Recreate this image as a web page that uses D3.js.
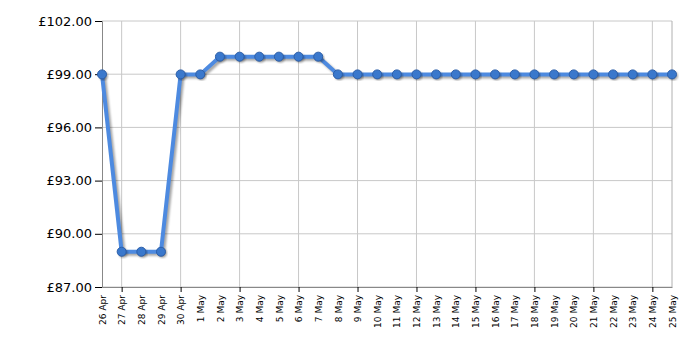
<!DOCTYPE html>
<html>
<head>
<meta charset="utf-8">
<script src="https://cdn.jsdelivr.net/npm/d3@7"></script>
<style>
  body { margin: 0; background: #fff; }
  svg text { font-family: "DejaVu Sans", Verdana, sans-serif; }
</style>
</head>
<body>
<svg id="chart" width="700" height="350"></svg>
<script>
// dates shown on the x axis
var dates = ["26 Apr","27 Apr","28 Apr","29 Apr","30 Apr","1 May","2 May","3 May","4 May","5 May",
  "6 May","7 May","8 May","9 May","10 May","11 May","12 May","13 May","14 May","15 May",
  "16 May","17 May","18 May","19 May","20 May","21 May","22 May","23 May","24 May","25 May"];
// price for each day
var prices = [98.99,88.99,88.99,88.99,98.99,98.99,99.99,99.99,99.99,99.99,
  99.99,99.99,98.99,98.99,98.99,98.99,98.99,98.99,98.99,98.99,
  98.99,98.99,98.99,98.99,98.99,98.99,98.99,98.99,98.99,98.99];
var yTicks = [87,90,93,96,99,102];

var margin = {left: 102, top: 21, right: 28, bottom: 63};
var W = 700, H = 350;
var svg = d3.select('#chart');

// soft shadow under the line
let defs = svg.append('defs');
let f = defs.append('filter').attr('id', 'blur').attr('x', '-5%').attr('y', '-5%')
    .attr('width', '110%').attr('height', '110%');
f.append('feGaussianBlur').attr('stdDeviation', 1);

var x = d3.scalePoint().domain(dates).range([margin.left, W - margin.right]);
var y = d3.scaleLinear().domain([87, 102]).range([H - margin.bottom, margin.top]);

// grid
let grid = svg.append('g');
grid.selectAll('.hg').data(yTicks).enter().append('line')
    .attr('x1', margin.left).attr('x2', W - margin.right)
    .attr('y1', d => y(d)).attr('y2', d => y(d))
    .attr('stroke', '#c8c8c8').attr('stroke-width', 1);
let gridDates = dates.filter((d, i) => i % 3 == 1);
grid.selectAll('.vg').data(gridDates).enter().append('line')
    .attr('x1', d => x(d)).attr('x2', d => x(d))
    .attr('y1', margin.top).attr('y2', H - margin.bottom)
    .attr('stroke', '#c8c8c8').attr('stroke-width', 1);
grid.append('line')
    .attr('x1', W - margin.right).attr('x2', W - margin.right)
    .attr('y1', margin.top).attr('y2', H - margin.bottom)
    .attr('stroke', '#b0b0b0');

// y axis
let yAxis = svg.append('g')
    .attr('transform', 'translate(' + margin.left + ',0)')
    .call(d3.axisLeft(y).tickValues(yTicks).tickSize(7).tickPadding(3)
        .tickFormat(d => '£' + d3.format('.2f')(d)));
yAxis.select('.domain').attr('stroke', '#888');
yAxis.selectAll('.tick line').attr('stroke', '#000');
yAxis.selectAll('text').attr('font-size', 13).attr('fill', '#000')
    .style('font-family', '"DejaVu Sans", Verdana, sans-serif');

// x axis
let xAxis = svg.append('g')
    .attr('transform', 'translate(0,' + (H - margin.bottom) + ')')
    .call(d3.axisBottom(x).tickSize(0).tickPadding(0));
xAxis.select('.domain').attr('stroke', '#888');
xAxis.selectAll('text')
    .attr('font-size', 9).attr('fill', '#000')
    .attr('text-anchor', 'end')
    .attr('dy', '0.35em')
    .attr('transform', 'translate(0,8) rotate(-90)')
    .attr('x', 0).attr('y', 0)
    .style('font-family', '"DejaVu Sans", Verdana, sans-serif');
xAxis.selectAll('.tick').filter(d => gridDates.indexOf(d) >= 0).append('line')
    .attr('y1', 0).attr('y2', 5).attr('stroke', '#000');

// shadow + line
let pts = dates.map((d, i) => [x(d), y(prices[i])]);
let line = d3.line();
svg.append('path').attr('d', line(pts.map(p => [p[0] + 2, p[1] + 2])))
    .attr('fill', 'none').attr('stroke', 'rgba(0,0,0,0.35)').attr('stroke-width', 4)
    .attr('stroke-linejoin', 'round').attr('filter', 'url(#blur)');
svg.append('path').attr('d', line(pts))
    .attr('fill', 'none').attr('stroke', '#4d8ae0').attr('stroke-width', 4)
    .attr('stroke-linejoin', 'round');

// points
svg.selectAll('.shadowdot').data(pts).enter().append('circle')
    .attr('cx', d => d[0] + 1.5).attr('cy', d => d[1] + 1.5).attr('r', 4.5)
    .attr('fill', 'rgba(0,0,0,0.35)').attr('filter', 'url(#blur)');
svg.selectAll('.dot').data(pts).enter().append('circle')
    .attr('cx', d => d[0]).attr('cy', d => d[1]).attr('r', 4.5)
    .attr('fill', '#3a78cc').attr('stroke', '#2c5ea8').attr('stroke-width', 1);
</script>
</body>
</html>
